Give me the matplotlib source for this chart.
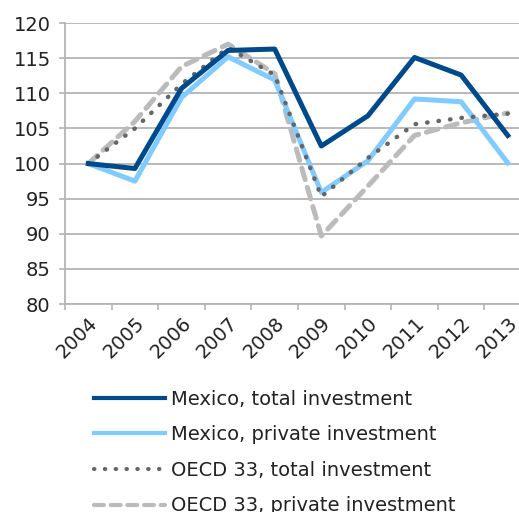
import numpy as np
import matplotlib
matplotlib.use("Agg")
import matplotlib.pyplot as plt
from matplotlib.ticker import FixedLocator
from matplotlib.transforms import ScaledTranslation

plt.rcParams['font.family'] = ['DejaVu Sans']

years = ["2004", "2005", "2006", "2007", "2008", "2009", "2010", "2011", "2012", "2013"]
mex_total = [100, 99.3, 110.7, 116.1, 116.3, 102.5, 106.8, 115.1, 112.6, 104.0]
mex_private = [100, 97.5, 109.4, 115.2, 111.9, 95.9, 100.4, 109.2, 108.8, 100.1]
oecd_total = [100, 105.0, 111.3, 116.5, 112.6, 95.3, 100.8, 105.6, 106.5, 107.1]
oecd_private = [100, 106.0, 113.8, 117.0, 112.8, 89.7, 96.8, 104.0, 105.8, 107.2]

fig = plt.figure(figsize=(5.19, 5.12), dpi=100)
ax = fig.add_axes([0.1252, 0.406, 0.898, 0.549])

x = np.arange(len(years))
grid_c = "#b4b4b4"

ax.plot(x, oecd_private, color="#bbbbbb", lw=3.6, dashes=(2.4, 1.6), dash_capstyle="round",
        label="OECD 33, private investment", zorder=2)
ax.plot(x, mex_private, color="#80cbff", lw=3.6, label="Mexico, private investment", zorder=3)
ax.plot(x, oecd_total, color="#666666", lw=3.2, linestyle=(0, (0.1, 2.5)), dash_capstyle="round",
        label="OECD 33, total investment", zorder=4)
ax.plot(x, mex_total, color="#004a8c", lw=3.6, label="Mexico, total investment", zorder=5)

ax.set_ylim(80, 120)
ax.set_yticks(range(80, 121, 5))
ax.set_xlim(-0.5, 9.5)
ax.set_xticks(x)
ax.set_xticklabels(years, rotation=45, ha="right", rotation_mode="anchor")
# nudge the year labels a little to the left
shift = ScaledTranslation(-5 / 100, 0, fig.dpi_scale_trans)
for lab in ax.get_xticklabels():
    lab.set_transform(lab.get_transform() + shift)
ax.xaxis.set_minor_locator(FixedLocator(np.arange(-0.5, 10, 1)))
ax.tick_params(axis="x", which="major", length=0, pad=7, labelsize=14, labelcolor="#222222")
ax.tick_params(axis="x", which="minor", length=4.5, width=1.2, color=grid_c)
ax.tick_params(axis="y", length=4.3, width=1.2, color=grid_c, pad=6, labelsize=14, labelcolor="#222222")

ax.grid(axis="y", color=grid_c, lw=1.3, zorder=0)
ax.set_axisbelow(True)
for s in ["top", "right"]:
    ax.spines[s].set_visible(False)
for s in ["left", "bottom"]:
    ax.spines[s].set_color(grid_c)
    ax.spines[s].set_linewidth(1.3)

h, l = ax.get_legend_handles_labels()
order = [3, 1, 2, 0]
leg = fig.legend([h[i] for i in order], [l[i] for i in order], loc="upper left",
                 bbox_to_anchor=(84 / 519, 1 - 380 / 512), frameon=False, fontsize=14,
                 handlelength=3.65, handletextpad=0.3, labelspacing=0.85, borderpad=0,
                 labelcolor="#222222")
for line in leg.get_lines():
    line.set_linewidth(3.0)

fig.savefig("out.png", dpi=100)
